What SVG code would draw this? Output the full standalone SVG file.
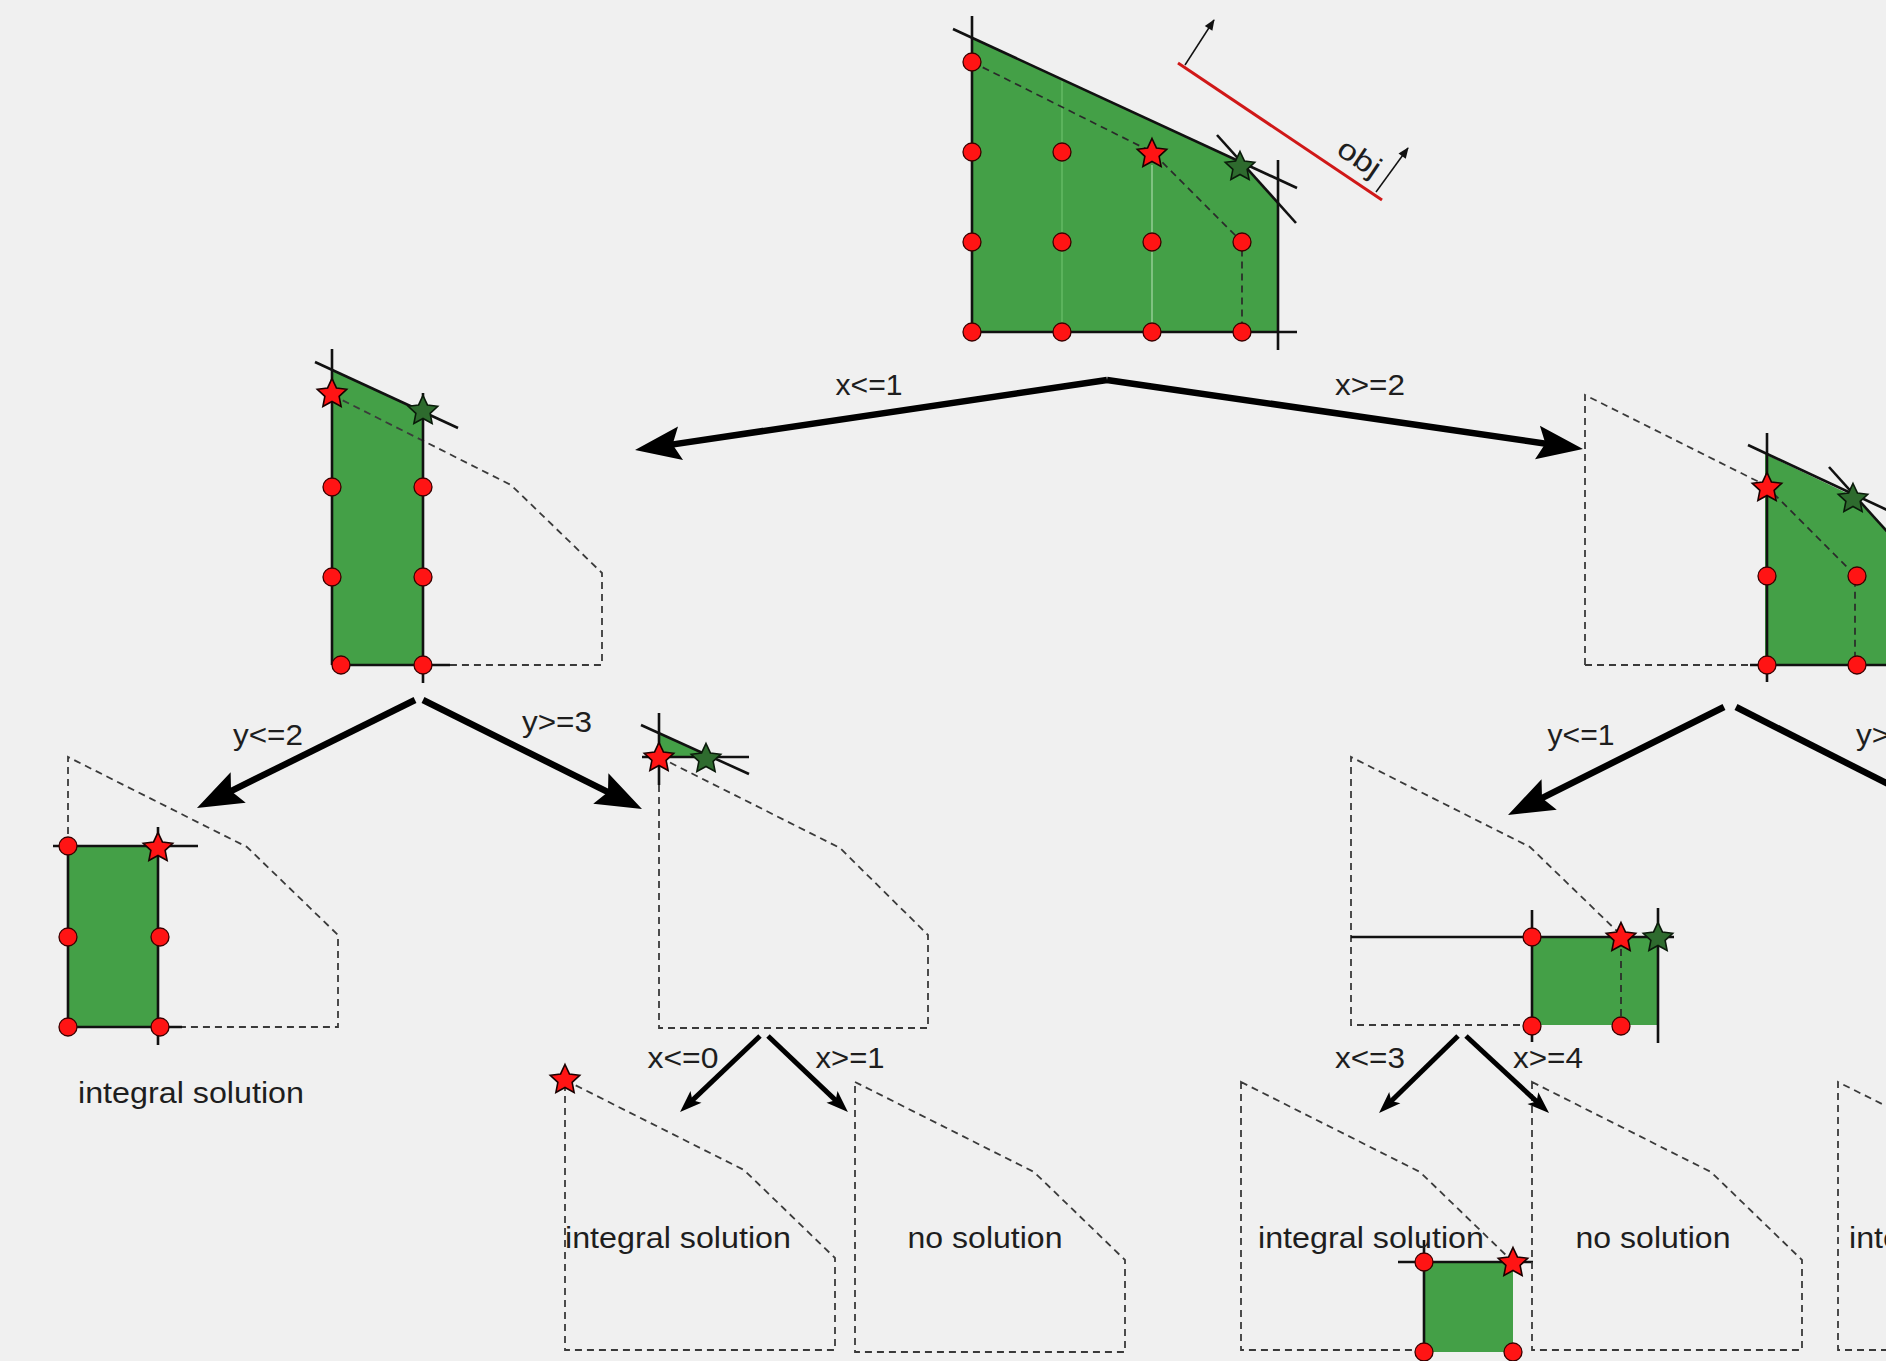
<svg xmlns="http://www.w3.org/2000/svg" width="1886" height="1361" viewBox="0 0 1886 1361">
  <style>
    .bg { fill: #f0f0f0; }
    .feas { fill: #44a047; stroke: none; }
    .edge { fill: none; stroke: #111; stroke-width: 2.6; }
    .cut { fill: none; stroke: #111; stroke-width: 2.6; }
    .hull { fill: none; stroke: #2a2a2a; stroke-width: 1.7; stroke-dasharray: 7 5; }
    .ghost { fill: none; stroke: #3a3a3a; stroke-width: 1.8; stroke-dasharray: 7 5; }
    .faint { fill: none; stroke: #6cc06c; stroke-width: 1.2; }
    .pt { fill: #ff1414; stroke: #3a0000; stroke-width: 1.3; }
    .star-int { fill: #ff1414; stroke: #1a0000; stroke-width: 1.6; }
    .star-lp { fill: #2e6b2e; stroke: #0a1a0a; stroke-width: 1.6; }
    .obj { fill: none; stroke: #d01818; stroke-width: 3; }
    .thin { fill: none; stroke: #111; stroke-width: 1.5; }
    .branch { fill: none; stroke: #000; stroke-width: 6.5; }
    .branch-s { fill: none; stroke: #000; stroke-width: 5; }
    text { font-family: "Liberation Sans", Arial, sans-serif; font-size: 29px; fill: #1e1e1e; }
  </style>
  <defs>
    <path id="star" d="M0,-15.5 L4.41,-6.07 L14.74,-4.79 L7.13,2.32 L9.11,12.54 L0,7.5 L-9.11,12.54 L-7.13,2.32 L-14.74,-4.79 L-4.41,-6.07 Z"/>
    <marker id="head-big" markerUnits="userSpaceOnUse" viewBox="-30 -20 52 40" markerWidth="52" markerHeight="40" refX="0" refY="0" orient="auto">
      <path d="M20,0 L-26,-17 L-18,0 L-26,17 Z" fill="#000"/>
    </marker>
    <marker id="head-small" markerUnits="userSpaceOnUse" viewBox="-16 -10 28 20" markerWidth="28" markerHeight="20" refX="0" refY="0" orient="auto">
      <path d="M10,0 L-12,-8 L-7,0 L-12,8 Z" fill="#000"/>
    </marker>
    <marker id="head-thin" markerUnits="userSpaceOnUse" viewBox="-12 -6 14 12" markerWidth="14" markerHeight="12" refX="0" refY="0" orient="auto">
      <path d="M1,0 L-10,-4.5 L-10,4.5 Z" fill="#111"/>
    </marker>
  </defs>

  <rect class="bg" x="0" y="0" width="1886" height="1361"/>

  <!-- root LP relaxation -->
  <g id="root-lp">
    <polygon class="feas" points="972,38 1240,162 1278,203 1278,332 972,332"/>
    <line class="faint" x1="1062" y1="80" x2="1062" y2="332"/>
    <line class="faint" x1="1152" y1="165" x2="1152" y2="332" style="stroke:#a8d8a8"/>
    <path class="hull" d="M972,62 L1152,152 L1242,242 L1242,332"/>
    <line class="edge" x1="972" y1="16" x2="972" y2="332"/>
    <line class="edge" x1="953" y1="29" x2="1297" y2="188"/>
    <line class="cut" x1="1217" y1="135" x2="1296" y2="223"/>
    <line class="edge" x1="1278" y1="160" x2="1278" y2="350"/>
    <line class="edge" x1="972" y1="332" x2="1297" y2="332"/>
    <circle class="pt" cx="972" cy="62" r="9"/>
    <circle class="pt" cx="972" cy="152" r="9"/>
    <circle class="pt" cx="1062" cy="152" r="9"/>
    <circle class="pt" cx="972" cy="242" r="9"/>
    <circle class="pt" cx="1062" cy="242" r="9"/>
    <circle class="pt" cx="1152" cy="242" r="9"/>
    <circle class="pt" cx="1242" cy="242" r="9"/>
    <circle class="pt" cx="972" cy="332" r="9"/>
    <circle class="pt" cx="1062" cy="332" r="9"/>
    <circle class="pt" cx="1152" cy="332" r="9"/>
    <circle class="pt" cx="1242" cy="332" r="9"/>
    <use href="#star" class="star-int" x="1152" y="154"/>
    <use href="#star" class="star-lp" x="1240" y="167"/>
    <!-- objective direction -->
    <line class="obj" x1="1178" y1="63" x2="1382" y2="200"/>
    <line class="thin" x1="1185" y1="65" x2="1214" y2="20" marker-end="url(#head-thin)"/>
    <line class="thin" x1="1376" y1="192" x2="1408" y2="148" marker-end="url(#head-thin)"/>
    <text transform="translate(1354,166) rotate(34)" text-anchor="middle" textLength="46" lengthAdjust="spacingAndGlyphs">obj</text>
  </g>

  <!-- branch x<=1 -->
  <g id="node-x-le-1">
    <polygon class="feas" points="332,370 423,412 423,665 332,665"/>
    <path class="ghost" d="M332,395 L511,485 L602,573 L602,665 L450,665"/>
    <line class="edge" x1="332" y1="349" x2="332" y2="665"/>
    <line class="edge" x1="315" y1="362" x2="458" y2="428"/>
    <line class="edge" x1="423" y1="393" x2="423" y2="683"/>
    <line class="edge" x1="332" y1="665" x2="450" y2="665"/>
    <circle class="pt" cx="332" cy="487" r="9"/>
    <circle class="pt" cx="423" cy="487" r="9"/>
    <circle class="pt" cx="332" cy="577" r="9"/>
    <circle class="pt" cx="423" cy="577" r="9"/>
    <circle class="pt" cx="341" cy="665" r="9"/>
    <circle class="pt" cx="423" cy="665" r="9"/>
    <use href="#star" class="star-int" x="332" y="394"/>
    <use href="#star" class="star-lp" x="423" y="411"/>
  </g>

  <!-- branch x>=2 -->
  <g id="node-x-ge-2">
    <polygon class="feas" points="1765,454 1853,496 1891,533 1891,665 1765,665"/>
    <path class="ghost" d="M1585,665 L1585,395 L1765,485"/>
    <path class="ghost" d="M1585,665 L1765,665"/>
    <path class="hull" d="M1765,485 L1855,575 L1855,665"/>
    <line class="edge" x1="1748" y1="445" x2="1900" y2="516"/>
    <line class="edge" x1="1767" y1="433" x2="1767" y2="682"/>
    <line class="cut" x1="1829" y1="467" x2="1900" y2="546"/>
    <line class="edge" x1="1750" y1="665" x2="1900" y2="665"/>
    <circle class="pt" cx="1767" cy="576" r="9"/>
    <circle class="pt" cx="1857" cy="576" r="9"/>
    <circle class="pt" cx="1767" cy="665" r="9"/>
    <circle class="pt" cx="1857" cy="665" r="9"/>
    <use href="#star" class="star-int" x="1767" y="488"/>
    <use href="#star" class="star-lp" x="1853" y="499"/>
  </g>

  <!-- branch y<=2 under x<=1 -->
  <g id="node-y-le-2">
    <path class="ghost" d="M68,846 L68,757 L247,847 L338,935 L338,1027 L182,1027"/>
    <rect class="feas" x="68" y="846" width="90" height="181"/>
    <path class="edge" d="M68,846 L68,1027 L182,1027"/>
    <line class="edge" x1="53" y1="846" x2="198" y2="846"/>
    <line class="edge" x1="158" y1="827" x2="158" y2="1045"/>
    <circle class="pt" cx="68" cy="846" r="9"/>
    <circle class="pt" cx="68" cy="937" r="9"/>
    <circle class="pt" cx="160" cy="937" r="9"/>
    <circle class="pt" cx="68" cy="1027" r="9"/>
    <circle class="pt" cx="160" cy="1027" r="9"/>
    <use href="#star" class="star-int" x="158" y="848"/>
    <text x="191" y="1103" text-anchor="middle" textLength="226" lengthAdjust="spacingAndGlyphs">integral solution</text>
  </g>

  <!-- branch y>=3 under x<=1 -->
  <g id="node-y-ge-3">
    <path class="ghost" d="M659,785 L659,1028 L928,1028 L928,935 L840,848 L659,757"/>
    <polygon class="feas" points="659,733 711,757 659,757"/>
    <line class="edge" x1="642" y1="757" x2="749" y2="757"/>
    <line class="edge" x1="659" y1="713" x2="659" y2="785"/>
    <line class="edge" x1="641" y1="725" x2="749" y2="774"/>
    <use href="#star" class="star-int" x="659" y="758"/>
    <use href="#star" class="star-lp" x="706" y="759"/>
  </g>

  <!-- branch x<=0 under y>=3 -->
  <g id="node-x-le-0">
    <path class="ghost" d="M565,1080 L744,1170 L835,1258 L835,1350 L565,1350 Z"/>
    <use href="#star" class="star-int" x="565" y="1080"/>
    <text x="678" y="1248" text-anchor="middle" textLength="226" lengthAdjust="spacingAndGlyphs">integral solution</text>
  </g>

  <!-- branch x>=1 under y>=3 -->
  <g id="node-x-ge-1">
    <path class="ghost" d="M855,1082 L1034,1172 L1125,1260 L1125,1352 L855,1352 Z"/>
    <text x="985" y="1248" text-anchor="middle" textLength="155" lengthAdjust="spacingAndGlyphs">no solution</text>
  </g>

  <!-- branch y<=1 under x>=2 -->
  <g id="node-y-le-1">
    <path class="ghost" d="M1532,1025 L1351,1025 L1351,757 L1530,847 L1621,935"/>
    <rect class="feas" x="1532" y="937" width="126" height="88"/>
    <path class="hull" d="M1621,937 L1621,1026"/>
    <line class="edge" x1="1351" y1="937" x2="1674" y2="937"/>
    <line class="edge" x1="1532" y1="910" x2="1532" y2="1042"/>
    <line class="edge" x1="1658" y1="908" x2="1658" y2="1043"/>
    <circle class="pt" cx="1532" cy="937" r="9"/>
    <circle class="pt" cx="1532" cy="1026" r="9"/>
    <circle class="pt" cx="1621" cy="1026" r="9"/>
    <use href="#star" class="star-int" x="1621" y="938"/>
    <use href="#star" class="star-lp" x="1658" y="938"/>
  </g>

  <!-- branch x<=3 under y<=1 -->
  <g id="node-x-le-3">
    <path class="ghost" d="M1241,1082 L1420,1172 L1511,1260 L1511,1350 L1241,1350 Z"/>
    <rect class="feas" x="1424" y="1262" width="89" height="90"/>
    <path class="edge" d="M1424,1262 L1424,1361"/>
    <line class="edge" x1="1398" y1="1262" x2="1533" y2="1262"/>
    <line class="edge" x1="1424" y1="1240" x2="1424" y2="1262"/>
    <circle class="pt" cx="1424" cy="1262" r="9"/>
    <circle class="pt" cx="1424" cy="1352" r="9"/>
    <circle class="pt" cx="1513" cy="1352" r="9"/>
    <use href="#star" class="star-int" x="1513" y="1263"/>
    <text x="1371" y="1248" text-anchor="middle" textLength="226" lengthAdjust="spacingAndGlyphs">integral solution</text>
  </g>

  <!-- branch x>=4 under y<=1 -->
  <g id="node-x-ge-4">
    <path class="ghost" d="M1532,1082 L1711,1172 L1802,1260 L1802,1350 L1532,1350 Z"/>
    <text x="1653" y="1248" text-anchor="middle" textLength="155" lengthAdjust="spacingAndGlyphs">no solution</text>
  </g>

  <!-- branch y>=2 under x>=2 (runs past the right edge) -->
  <g id="node-y-ge-2-leaf">
    <path class="ghost" d="M1900,1350 L1838,1350 L1838,1082 L1900,1113"/>
    <text x="1849" y="1248" textLength="226" lengthAdjust="spacingAndGlyphs">integral solution</text>
  </g>

  <!-- branching arrows and their labels -->
  <g id="connectors">
    <line class="branch" x1="1107" y1="380" x2="654.8" y2="447.1" marker-end="url(#head-big)"/>
    <line class="branch" x1="1107" y1="380" x2="1563.2" y2="446.2" marker-end="url(#head-big)"/>
    <line class="branch" x1="415" y1="700" x2="214.9" y2="799.1" marker-end="url(#head-big)"/>
    <line class="branch" x1="423" y1="700" x2="624.1" y2="800.1" marker-end="url(#head-big)"/>
    <line class="branch" x1="1724" y1="707" x2="1525.9" y2="806.1" marker-end="url(#head-big)"/>
    <line class="branch" x1="1736" y1="707" x2="1900" y2="790"/>
    <line class="branch-s" x1="760" y1="1036" x2="687.3" y2="1105.1" marker-end="url(#head-small)"/>
    <line class="branch-s" x1="768" y1="1036" x2="840.7" y2="1105.1" marker-end="url(#head-small)"/>
    <line class="branch-s" x1="1458" y1="1036" x2="1386.2" y2="1106" marker-end="url(#head-small)"/>
    <line class="branch-s" x1="1466" y1="1036" x2="1541.7" y2="1106.2" marker-end="url(#head-small)"/>
    <text x="869" y="395" text-anchor="middle" textLength="67" lengthAdjust="spacingAndGlyphs">x&lt;=1</text>
    <text x="1370" y="395" text-anchor="middle" textLength="70" lengthAdjust="spacingAndGlyphs">x&gt;=2</text>
    <text x="268" y="745" text-anchor="middle" textLength="70" lengthAdjust="spacingAndGlyphs">y&lt;=2</text>
    <text x="557" y="732" text-anchor="middle" textLength="70" lengthAdjust="spacingAndGlyphs">y&gt;=3</text>
    <text x="1581" y="745" text-anchor="middle" textLength="67" lengthAdjust="spacingAndGlyphs">y&lt;=1</text>
    <text x="1856" y="745" textLength="70" lengthAdjust="spacingAndGlyphs">y&gt;=2</text>
    <text x="683" y="1068" text-anchor="middle" textLength="71" lengthAdjust="spacingAndGlyphs">x&lt;=0</text>
    <text x="850" y="1068" text-anchor="middle" textLength="69" lengthAdjust="spacingAndGlyphs">x&gt;=1</text>
    <text x="1370" y="1068" text-anchor="middle" textLength="70" lengthAdjust="spacingAndGlyphs">x&lt;=3</text>
    <text x="1548" y="1068" text-anchor="middle" textLength="70" lengthAdjust="spacingAndGlyphs">x&gt;=4</text>
  </g>
</svg>
